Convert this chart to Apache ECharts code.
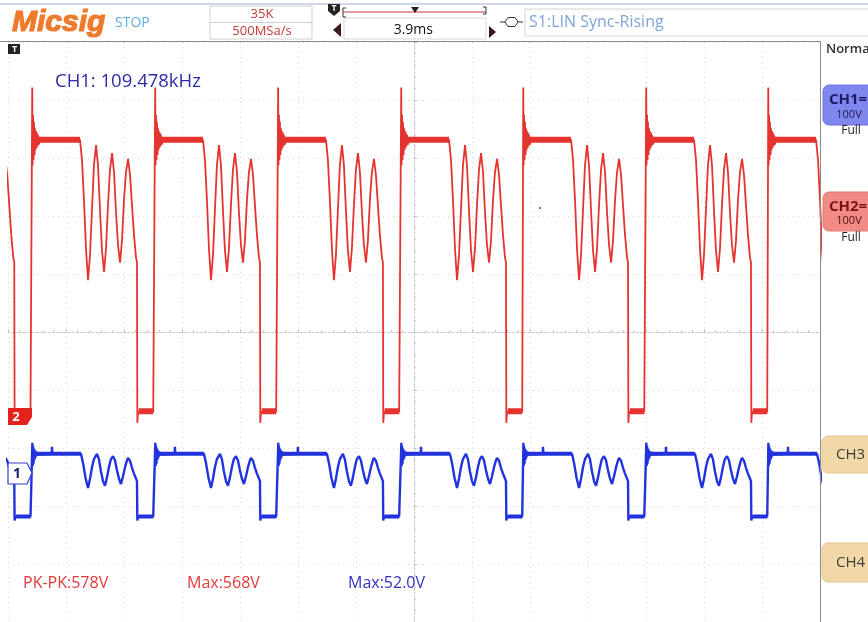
<!DOCTYPE html>
<html><head><meta charset="utf-8">
<script src="https://cdn.jsdelivr.net/npm/echarts@6/dist/echarts.min.js"></script>
<style>html,body{margin:0;padding:0;background:#fff}#c{width:868px;height:622px}</style>
</head><body><div id="c"></div>
<script>
// ---- Data (time in µs, 5 µs/div, 14 div on screen; voltage in V, 100 V/div) ----
const timeMinUs = 0, timeMaxUs = 70, usPerDiv = 5;
const voltsPerDiv = 100;
const ch2GroundDiv = -1.466;   // CH2 marker "2" relative to screen centre (div)
const ch1GroundDiv = -2.431;   // CH1 marker "1" relative to screen centre (div)

// rising edges (µs)
const risingEdgesUs = [-8.51, 2.07, 12.67, 23.27, 33.88, 44.40, 55.00, 65.52];

// CH2 (red) one period, offsets from rising edge (µs) and volts
const ch2T = [0, 0.02, 0.05, 0.09, 0.13, 0.17, 0.22, 0.26, 0.30, 0.34, 0.39, 0.43, 0.47, 0.52, 0.60, 0.69,
  4.14, 4.31, 4.48, 4.66, 4.83, 5.00, 5.17, 5.34, 5.52, 5.69, 5.86, 6.03, 6.21, 6.38, 6.55, 6.72, 6.90,
  7.07, 7.24, 7.41, 7.59, 7.76, 7.93, 8.10, 8.28, 8.45, 8.62, 8.79, 8.97, 9.05, 9.08, 9.14, 10.45];
const ch2V = [9, 568, 434, 521, 443, 509, 452, 498, 460, 493, 464, 490, 467, 486, 470, 478,
  478, 443, 374, 288, 236, 279, 357, 434, 469, 434, 357, 288, 250, 291, 365, 426, 455,
  422, 353, 297, 266, 305, 374, 422, 445, 417, 365, 314, 274, 267, -10, 9, 9];
// thick ringing bands: [from µs, to µs, volts]
const ch2Bands = [[0.60, 4.14, 478], [9.20, 10.45, 10]];

// CH1 (blue) one period
const ch1T = [0, 0.03, 0.06, 0.09, 0.13, 0.17, 0.22, 0.26, 0.30, 0.34, 0.39, 0.47, 0.52, 0.60, 0.69,
  1.70, 1.72, 1.75, 4.22, 4.40, 4.62, 4.83, 5.00, 5.17, 5.34, 5.60, 5.77, 5.94, 6.12, 6.29, 6.46, 6.63,
  6.80, 6.98, 7.15, 7.32, 7.50, 7.67, 7.84, 8.02, 8.19, 8.28, 8.45, 8.62, 8.79, 8.97, 9.05, 9.08, 9.14, 10.45];
const ch1V = [-74, 52, 12, 47, 16, 42, 23, 39, 27, 37, 30, 36, 32, 35, 33,
  33, 45, 33, 33, 17, -9, -26, -10, 10, 24, 33, 24, 3, -14, -22, -8, 10,
  24, 29, 22, 5, -10, -19, -6, 10, 22, 26, 21, 9, -1, -10, -14, -82, -75, -75];
const ch1Bands = [[0.50, 4.22, 33], [9.20, 10.45, -75]];

// measurements / labels
const freqLabel = 'CH1: 109.478kHz';
const measureLabels = ['PK-PK:578V', 'Max:568V', 'Max:52.0V'];

// ---- build series data from the values above ----
function buildWave(edges, T, V) {
  const out = [];
  edges.forEach(e => T.forEach((t, i) => out.push([+(e + t).toFixed(3), V[i]])));
  return out;
}
function buildBands(edges, bands) {
  const out = [];
  edges.forEach(e => bands.forEach(b => {
    out.push([+(e + b[0]).toFixed(3), b[2]]);
    out.push([+(e + b[1]).toFixed(3), b[2]]);
    out.push([+(e + b[1] + 0.001).toFixed(3), '-']);
  }));
  return out;
}
const red = '#e5342f', blue = '#2233dd';
const grid = '#d6d6d6';
const F = "'Open Sans', 'Noto Sans', sans-serif";

const chart = echarts.init(document.getElementById('c'), null, {renderer: 'canvas'});

function txt(x, y, text, size, color, extra) {
  return Object.assign({type: 'text', x: x, y: y, z: 200,
    style: Object.assign({text: text, fill: color, font: size + 'px ' + F,
      textAlign: 'left', textVerticalAlign: 'middle', align: 'left', verticalAlign: 'middle'}, extra || {})});
}

const graphics = [
  // top bar
  {type: 'rect', shape: {x: 0, y: 3, width: 868, height: 2}, style: {fill: '#cfd8e8'}, z: 150},
  {type: 'text', x: 12, y: 23, z: 200, style: {text: 'Micsig', fill: '#f07a2c', stroke: '#f07a2c', lineWidth: 1.2,
    font: 'italic bold 30px "Liberation Sans", Arial, sans-serif', textVerticalAlign: 'middle', verticalAlign: 'middle'}},
  txt(115, 23, 'STOP', 14, '#5db0e0'),
  {type: 'rect', shape: {x: 210, y: 6, width: 102, height: 33}, style: {fill: '#fff', stroke: '#cfcfcf', lineWidth: 1}, z: 150},
  {type: 'line', shape: {x1: 210, y1: 22.5, x2: 312, y2: 22.5}, style: {stroke: '#cfcfcf', lineWidth: 1}, z: 151},
  txt(262, 14, '35K', 13, '#c23b32', {textAlign: 'center', align: 'center'}),
  txt(262, 31, '500MSa/s', 13, '#c23b32', {textAlign: 'center', align: 'center'}),
  // trigger marker on timeline
  {type: 'polygon', shape: {points: [[328, 4], [340, 4], [340, 11], [334, 16], [328, 11]]}, style: {fill: '#2a2222'}, z: 160},
  txt(334, 9, 'T', 8, '#fff', {textAlign: 'center', align: 'center', font: 'bold 8px ' + F}),
  {type: 'polyline', shape: {points: [[346, 8], [343, 8], [343, 17], [346, 17]]}, style: {stroke: '#333', lineWidth: 1, fill: null}, z: 160},
  {type: 'line', shape: {x1: 343, y1: 12, x2: 486, y2: 12}, style: {stroke: '#c43a3a', lineWidth: 1.2}, z: 160},
  {type: 'polyline', shape: {points: [[483, 7], [486, 7], [486, 14], [483, 14]]}, style: {stroke: '#333', lineWidth: 1, fill: null}, z: 160},
  {type: 'polygon', shape: {points: [[411, 7], [419, 7], [415, 13]]}, style: {fill: '#2a1a1a'}, z: 160},
  {type: 'rect', shape: {x: 344, y: 18, width: 142, height: 21}, style: {fill: '#fff', stroke: '#d6d6d6', lineWidth: 1}, z: 150},
  txt(433, 30, '3.9ms', 14, '#111', {textAlign: 'right', align: 'right'}),
  {type: 'polygon', shape: {points: [[341, 23], [341, 37], [333, 30]]}, style: {fill: '#3a1c1c'}, z: 160},
  {type: 'polygon', shape: {points: [[489, 26], [489, 38], [496, 32]]}, style: {fill: '#3a1c1c'}, z: 160},
  // trigger source symbol
  {type: 'line', shape: {x1: 500, y1: 22, x2: 505, y2: 22}, style: {stroke: '#333', lineWidth: 1}, z: 160},
  {type: 'polygon', shape: {points: [[505, 22], [508, 17.5], [515, 17.5], [518, 22], [515, 26.5], [508, 26.5]]}, style: {fill: '#fff', stroke: '#333', lineWidth: 1}, z: 160},
  {type: 'line', shape: {x1: 518, y1: 22, x2: 523, y2: 22}, style: {stroke: '#333', lineWidth: 1}, z: 160},
  {type: 'rect', shape: {x: 525, y: 9, width: 350, height: 27}, style: {fill: '#fff', stroke: '#d4d4d4', lineWidth: 1}, z: 150},
  txt(529, 22, 'S1:LIN Sync-Rising', 16, '#7ea4d8'),
  // screen frame
  {type: 'line', shape: {x1: 0, y1: 41.5, x2: 820, y2: 41.5}, style: {stroke: '#8a8a8a', lineWidth: 1}, z: 150},
  {type: 'line', shape: {x1: 820.5, y1: 41, x2: 820.5, y2: 622}, style: {stroke: '#8a8a8a', lineWidth: 1}, z: 150},
  // right panel
  txt(826, 49, 'Normal', 13, '#333', {font: '600 13px ' + F}),
  {type: 'rect', shape: {x: 823, y: 85, width: 60, height: 40, r: 6}, style: {fill: '#7f86ee', stroke: '#6c73dc', lineWidth: 1}, z: 150},
  txt(829, 100, 'CH1=', 15, '#1c1c66', {font: 'bold 15px ' + F}),
  txt(849, 115, '100V', 11, '#1c1c44', {textAlign: 'center', align: 'center'}),
  txt(851, 131, 'Full', 12, '#222', {textAlign: 'center', align: 'center'}),
  {type: 'rect', shape: {x: 823, y: 192, width: 60, height: 39, r: 6}, style: {fill: '#f28b86', stroke: '#e2766f', lineWidth: 1}, z: 150},
  txt(829, 207, 'CH2=', 15, '#7a1414', {font: 'bold 15px ' + F}),
  txt(849, 221, '100V', 11, '#4a1010', {textAlign: 'center', align: 'center'}),
  txt(851, 238, 'Full', 12, '#222', {textAlign: 'center', align: 'center'}),
  {type: 'rect', shape: {x: 822, y: 436, width: 60, height: 37, r: 6}, style: {fill: '#f2d8a9', stroke: '#e3c48f', lineWidth: 1}, z: 150},
  txt(836, 455, 'CH3', 15, '#3c3c3c'),
  {type: 'rect', shape: {x: 822, y: 543, width: 60, height: 39, r: 6}, style: {fill: '#f2d8a9', stroke: '#e3c48f', lineWidth: 1}, z: 150},
  txt(836, 563, 'CH4', 15, '#3c3c3c'),
  // channel markers
  {type: 'polygon', shape: {points: [[8, 44], [20, 44], [20, 54], [8, 54], [8, 44]]}, style: {fill: '#222'}, z: 180},
  {type: 'polygon', shape: {points: [[8, 49], [11, 44], [11, 54]]}, style: {fill: '#222'}, z: 180},
  txt(14.5, 49, 'T', 9, '#fff', {textAlign: 'center', align: 'center', font: 'bold 9px ' + F}),
  {type: 'polygon', shape: {points: [[8, 408], [32, 408], [32, 417], [27, 425], [8, 425]]}, style: {fill: '#e4221c'}, z: 180},
  txt(16, 417, '2', 13, '#fff', {textAlign: 'center', align: 'center', font: 'bold 13px ' + F}),
  {type: 'polygon', shape: {points: [[8, 463], [27, 463], [32, 473], [27, 484], [8, 484]]}, style: {fill: '#fff', stroke: '#3040c8', lineWidth: 1.2}, z: 180},
  txt(17, 474, '1', 14, '#1a1a6a', {textAlign: 'center', align: 'center', font: 'bold 14px ' + F}),
  // texts
  txt(55, 82, freqLabel, 18.5, '#2c2ca6'),
  txt(23, 583, measureLabels[0], 16, '#e03a3a'),
  txt(187, 583, measureLabels[1], 16, '#e03a3a'),
  txt(348, 583, measureLabels[2], 16, '#3232c4'),
  {type: 'circle', shape: {cx: 540, cy: 208, r: 1.1}, style: {fill: '#555'}, z: 150}
];

const centerAxisLine = {show: true, onZero: true, lineStyle: {color: '#c8c8c8', width: 1, type: [2, 2]}};
const option = {
  animation: false,
  backgroundColor: '#fff',
  grid: {left: 8, right: 48, top: 42, bottom: 0, containLabel: false},
  xAxis: [
    {type: 'value', min: timeMinUs, max: timeMaxUs, interval: usPerDiv,
      axisLabel: {show: false},
      axisLine: Object.assign({onZeroAxisIndex: 0}, centerAxisLine),
      axisTick: {show: true, inside: true, length: 3, lineStyle: {color: '#c4c4c4'}},
      minorTick: {show: true, splitNumber: 5, length: 2, lineStyle: {color: '#cacaca'}},
      splitLine: {show: true, lineStyle: {color: grid, type: [1, 4]}}},
    {type: 'value', min: -7, max: 7, interval: 1, axisLabel: {show: false}, axisLine: {show: false},
      axisTick: {show: false}, splitLine: {show: false}}
  ],
  yAxis: [
    {type: 'value', min: -5, max: 5, interval: 1,
      axisLabel: {show: false},
      axisLine: Object.assign({onZeroAxisIndex: 1}, centerAxisLine),
      axisTick: {show: true, inside: true, length: 3, lineStyle: {color: '#c4c4c4'}},
      minorTick: {show: true, splitNumber: 5, length: 2, lineStyle: {color: '#cacaca'}},
      splitLine: {show: true, lineStyle: {color: grid, type: [1, 4]}}},
    {type: 'value', show: false, min: (-5 - ch2GroundDiv) * voltsPerDiv, max: (5 - ch2GroundDiv) * voltsPerDiv, splitLine: {show: false}},
    {type: 'value', show: false, min: (-5 - ch1GroundDiv) * voltsPerDiv, max: (5 - ch1GroundDiv) * voltsPerDiv, splitLine: {show: false}}
  ],
  series: [
    {name: 'CH2 band', type: 'line', xAxisIndex: 0, yAxisIndex: 1, showSymbol: false, symbol: 'none', connectNulls: false,
      lineStyle: {color: red, width: 6}, data: buildBands(risingEdgesUs, ch2Bands), z: 3},
    {name: 'CH2', type: 'line', xAxisIndex: 0, yAxisIndex: 1, showSymbol: false, symbol: 'none',
      lineStyle: {color: red, width: 1.8}, data: buildWave(risingEdgesUs, ch2T, ch2V), z: 4},
    {name: 'CH1 band', type: 'line', xAxisIndex: 0, yAxisIndex: 2, showSymbol: false, symbol: 'none', connectNulls: false,
      lineStyle: {color: blue, width: 4}, data: buildBands(risingEdgesUs, ch1Bands), z: 5},
    {name: 'CH1', type: 'line', xAxisIndex: 0, yAxisIndex: 2, showSymbol: false, symbol: 'none',
      lineStyle: {color: blue, width: 2.4}, data: buildWave(risingEdgesUs, ch1T, ch1V), z: 6}
  ],
  graphic: {elements: graphics}
};
chart.setOption(option);
</script>
</body></html>
